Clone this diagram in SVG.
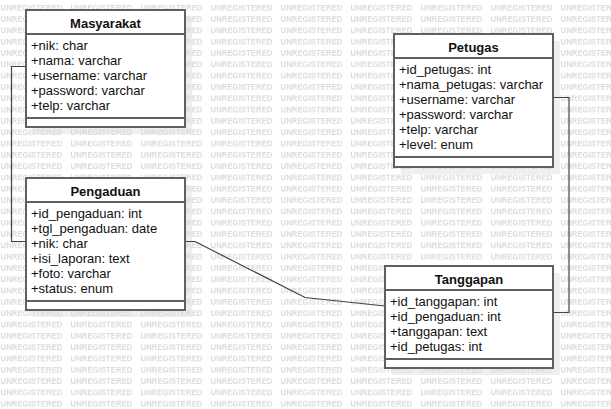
<svg xmlns="http://www.w3.org/2000/svg" width="611" height="409" viewBox="0 0 611 409">
<style>
.shadow{fill:#efefef;stroke:none}
.box{fill:#fff;stroke:#606060;stroke-width:2}
.sep{stroke:#606060;stroke-width:2}
.title{font-family:"Liberation Sans",Arial,sans-serif;font-size:13px;font-weight:bold;fill:#111;text-anchor:middle}
.attr{font-family:"Liberation Sans",Arial,sans-serif;font-size:13px;fill:#111}
.wm{font-family:"Liberation Sans",Arial,sans-serif;font-size:8px;font-weight:bold;fill:#dbdbdb}
.conn{fill:none;stroke:#444;stroke-width:1.2}
</style>
<defs>
<pattern id="wmp" patternUnits="userSpaceOnUse" x="0" y="3" width="70" height="11.314">
<text class="wm" x="0.5" y="8" textLength="62" lengthAdjust="spacingAndGlyphs">UNREGISTERED</text>
</pattern>
</defs>
<rect x="0" y="0" width="611" height="409" fill="#fff"/>
<g id="shadows">
<rect class="shadow" x="33" y="17" width="159" height="117"/>
<rect class="shadow" x="401" y="41" width="159" height="133"/>
<rect class="shadow" x="33" y="185" width="159" height="132"/>
<rect class="shadow" x="392" y="273" width="168" height="102"/>
</g>
<rect id="watermark" x="0" y="0" width="611" height="409" fill="url(#wmp)"/>
<g id="connectors">
<path class="conn" d="M26,66.5 H11.5 V241.5 H26"/>
<path class="conn" d="M553,97.5 H569 V312.5 H553"/>
<path class="conn" d="M185,241.5 H195 L305,297.5 L385,306"/>
</g>
<g id="Masyarakat">
<rect class="box" x="26" y="10" width="159" height="117"/>
<line class="sep" x1="26" y1="34" x2="185" y2="34"/>
<line class="sep" x1="26" y1="118" x2="185" y2="118"/>
<text class="title" x="105.5" y="27.5">Masyarakat</text>
<text class="attr" x="31" y="49.5">+nik: char</text>
<text class="attr" x="31" y="64.5">+nama: varchar</text>
<text class="attr" x="31" y="79.5">+username: varchar</text>
<text class="attr" x="31" y="94.5">+password: varchar</text>
<text class="attr" x="31" y="109.5">+telp: varchar</text>
</g>
<g id="Petugas">
<rect class="box" x="394" y="34" width="159" height="133"/>
<line class="sep" x1="394" y1="58" x2="553" y2="58"/>
<line class="sep" x1="394" y1="157" x2="553" y2="157"/>
<text class="title" x="473.5" y="51.5">Petugas</text>
<text class="attr" x="399" y="73.5">+id_petugas: int</text>
<text class="attr" x="399" y="88.5">+nama_petugas: varchar</text>
<text class="attr" x="399" y="103.5">+username: varchar</text>
<text class="attr" x="399" y="118.5">+password: varchar</text>
<text class="attr" x="399" y="133.5">+telp: varchar</text>
<text class="attr" x="399" y="148.5">+level: enum</text>
</g>
<g id="Pengaduan">
<rect class="box" x="26" y="178" width="159" height="132"/>
<line class="sep" x1="26" y1="202" x2="185" y2="202"/>
<line class="sep" x1="26" y1="301" x2="185" y2="301"/>
<text class="title" x="105.5" y="195.5">Pengaduan</text>
<text class="attr" x="31" y="217.5">+id_pengaduan: int</text>
<text class="attr" x="31" y="232.5">+tgl_pengaduan: date</text>
<text class="attr" x="31" y="247.5">+nik: char</text>
<text class="attr" x="31" y="262.5">+isi_laporan: text</text>
<text class="attr" x="31" y="277.5">+foto: varchar</text>
<text class="attr" x="31" y="292.5">+status: enum</text>
</g>
<g id="Tanggapan">
<rect class="box" x="385" y="266" width="168" height="102"/>
<line class="sep" x1="385" y1="290" x2="553" y2="290"/>
<line class="sep" x1="385" y1="359" x2="553" y2="359"/>
<text class="title" x="469" y="283.5">Tanggapan</text>
<text class="attr" x="390" y="305.5">+id_tanggapan: int</text>
<text class="attr" x="390" y="320.5">+id_pengaduan: int</text>
<text class="attr" x="390" y="335.5">+tanggapan: text</text>
<text class="attr" x="390" y="350.5">+id_petugas: int</text>
</g>
</svg>
